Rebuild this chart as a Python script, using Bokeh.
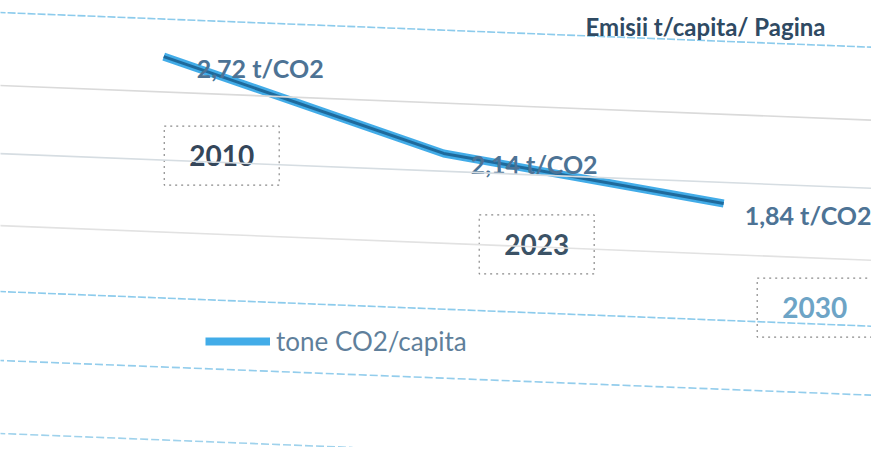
from bokeh.plotting import figure
from bokeh.models import Range1d, ColumnDataSource, Slope, Legend, LegendItem, Label
from bokeh.embed import file_html
from bokeh.resources import INLINE
from bokeh.core.properties import value

# ---- data ----
years = ["2010", "2023", "2030"]
co2_per_capita = [2.72, 2.14, 1.84]
value_labels = ["2,72 t/CO2", "2,14 t/CO2", "1,84 t/CO2"]
series_name = "tone CO2/capita"
title_fragment = "Emisii t/capita/ Pagina"

# ---- styling (label offsets, in pixels) ----
value_dx = [33, 27, 21]
year_dx = [58, 93, 91]
year_dy = [99, 91, 104]
year_colors = ["#34465a", "#3b5266", "#6da4c6"]

W, H = 871, 447
FONT = "Lato"

src = ColumnDataSource(dict(
    x=list(range(len(years))),
    y=co2_per_capita,
    vlab=value_labels,
    vdx=value_dx,
    year=years,
    dx=year_dx,
    dy=year_dy,
    ycol=year_colors,
))

p = figure(width=W, height=H, output_backend="svg", toolbar_location=None,
           x_range=Range1d(-0.583, 2.528), y_range=Range1d(0.379, 3.056),
           x_axis_location=None, y_axis_location=None,
           min_border=0, min_border_left=0, min_border_right=0,
           min_border_top=0, min_border_bottom=0)
p.grid.visible = False
p.outline_line_color = None
p.background_fill_color = "white"
p.border_fill_color = "white"

# slightly tilted (scanned) horizontal rules
grid_levels = [2.945, 2.508, 2.100, 1.669, 1.274, 0.861, 0.424]
grid_colors = ["#8ccbec", "#dadada", "#d6dde2", "#e2e2e2", "#8ccbec", "#93cdec", "#9fd2ec"]
grid_dash = ["8 2", "solid", "solid", "solid", "8 2", "8 3", "8 3"]
for lvl, col, dsh in zip(grid_levels, grid_colors, grid_dash):
    p.add_layout(Slope(gradient=-0.0667, y_intercept=lvl, line_color=col,
                       line_width=1.6, line_dash=dsh))

# the series line: bright halo + darker core
wide = p.line("x", "y", source=src, line_color="#2ea3e6", line_width=8, line_alpha=0.9)
p.line("x", "y", source=src, line_color="#1f6a9c", line_width=3)

# value labels
p.text("x", "y", text="vlab", source=src, x_offset="vdx", y_offset=11,
       text_font=value(FONT), text_font_size="25px", text_font_style="bold",
       text_color="#4d7395", text_align="left", text_baseline="middle")

# year call-outs in dotted boxes
p.text("x", "y", text="year", source=src, x_offset="dx", y_offset="dy",
       text_font=value(FONT), text_font_size="28px", text_font_style="bold",
       text_color="ycol", text_align="center", text_baseline="middle",
       padding=dict(left=25, right=25, top=19, bottom=19),
       border_line_color="#8a8a8a", border_line_dash="2 4", border_line_width=1.2,
       background_fill_color="white")

# legend
legend = Legend(items=[LegendItem(label=series_name, renderers=[wide])],
                location=(205, 90), border_line_color=None, background_fill_alpha=0,
                glyph_width=65, glyph_height=20, label_text_font=FONT,
                label_text_font_size="26px", label_text_color="#5f7f9b",
                padding=0, margin=0, label_standoff=6, spacing=0)
p.add_layout(legend)

# heading fragment at the top right
p.add_layout(Label(x=585, y=H - 26, x_units="screen", y_units="screen", text=title_fragment,
                   text_font=FONT, text_font_size="24px", text_font_style="bold",
                   text_color="#2f4a63", text_baseline="alphabetic"))

open("out.html", "w").write(file_html(p, INLINE))
